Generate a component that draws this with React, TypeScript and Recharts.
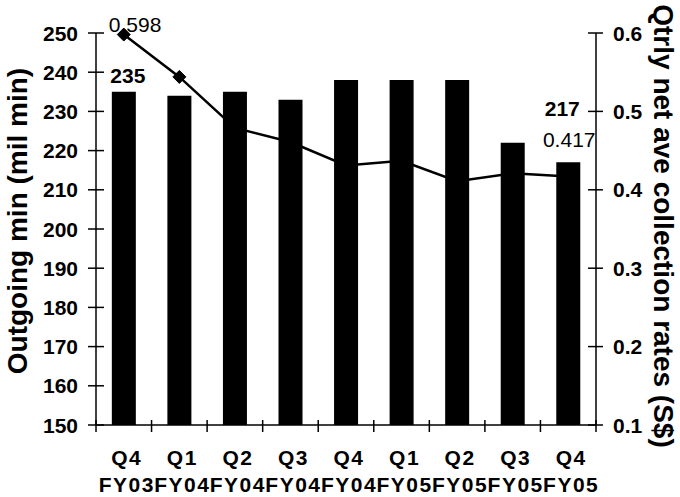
import React from 'react';
import { ComposedChart, Bar, Line, XAxis, YAxis, LabelList } from 'recharts';

const categories = ['Q4 FY03', 'Q1 FY04', 'Q2 FY04', 'Q3 FY04', 'Q4 FY04', 'Q1 FY05', 'Q2 FY05', 'Q3 FY05', 'Q4 FY05'];
const quarterLabels = ['Q4', 'Q1', 'Q2', 'Q3', 'Q4', 'Q1', 'Q2', 'Q3', 'Q4'];
const fyLabels = ['FY03', 'FY04', 'FY04', 'FY04', 'FY04', 'FY05', 'FY05', 'FY05', 'FY05'];
const outgoingMinutes = [235, 234, 235, 233, 238, 238, 238, 222, 217];
const collectionRates = [0.598, 0.544, 0.479, 0.461, 0.431, 0.437, 0.411, 0.421, 0.417];
const leftTicks = [150, 160, 170, 180, 190, 200, 210, 220, 230, 240, 250];
const rightTicks = [0.1, 0.2, 0.3, 0.4, 0.5, 0.6];
const leftTitle = 'Outgoing min (mil min)';
const rightTitle = 'Qtrly net ave collection rates (S$)';

const data = categories.map((c, i) => ({
  cat: c,
  q: quarterLabels[i],
  fy: fyLabels[i],
  minutes: outgoingMinutes[i],
  rate: collectionRates[i],
}));

const FONT = '"Liberation Sans", Arial, sans-serif';
const LAST = categories.length - 1;

const LeftTick = (props: any) => {
  const { x, y, payload } = props;
  return (
    <g>
      <line x1={x - 8} x2={x + 8} y1={y} y2={y} stroke="#000" strokeWidth={1.5} />
      <text x={x - 18} y={y + 7.5} textAnchor="end" fontFamily={FONT} fontWeight="bold" fontSize={21} fill="#000">
        {payload.value}
      </text>
    </g>
  );
};

const RightTick = (props: any) => {
  const { x, y, payload } = props;
  return (
    <g>
      <line x1={x - 8} x2={x + 7} y1={y} y2={y} stroke="#000" strokeWidth={1.5} />
      <text x={x + 17} y={y + 7.5} textAnchor="start" fontFamily={FONT} fontWeight="bold" fontSize={21} fill="#000">
        {Number(payload.value).toFixed(1)}
      </text>
    </g>
  );
};

const BottomTick = (props: any) => {
  const { x, y, payload, index } = props;
  const off = payload.offset ?? 27.8;
  const d = data[index] || data.find((e) => e.cat === payload.value);
  return (
    <g>
      <line x1={x - off} x2={x - off} y1={y - 5} y2={y + 7} stroke="#000" strokeWidth={1.5} />
      {index === LAST && <line x1={x + off} x2={x + off} y1={y - 5} y2={y + 7} stroke="#000" strokeWidth={1.5} />}
      <text x={x + 3} y={y + 40} textAnchor="middle" fontFamily={FONT} fontWeight="bold" fontSize={21} letterSpacing={1.5} fill="#000">
        {d ? d.q : ''}
      </text>
      <text x={x + 3} y={y + 67} textAnchor="middle" fontFamily={FONT} fontWeight="bold" fontSize={21} letterSpacing={1.5} fill="#000">
        {d ? d.fy : ''}
      </text>
    </g>
  );
};

const Diamond = (props: any) => {
  const { cx, cy, index } = props;
  if (cx == null || cy == null) return <g key={`d${index}`} />;
  const r = 6.5;
  return (
    <polygon
      key={`d${index}`}
      points={`${cx},${cy - r} ${cx + r},${cy} ${cx},${cy + r} ${cx - r},${cy}`}
      fill="#000"
      stroke="#000"
    />
  );
};

const BarValueLabel = (props: any) => {
  const { x, y, width, value, index } = props;
  if (index === 0) {
    return (
      <text x={x + width / 2 + 4} y={y - 9} textAnchor="middle" fontFamily={FONT} fontWeight="bold" fontSize={21} fill="#000">
        {value}
      </text>
    );
  }
  if (index === LAST) {
    return (
      <text x={x + width / 2 - 6} y={y - 46} textAnchor="middle" fontFamily={FONT} fontWeight="bold" fontSize={21} fill="#000">
        {value}
      </text>
    );
  }
  return null;
};

const LineValueLabel = (props: any) => {
  const { x, y, value, index } = props;
  if (index === 0) {
    return (
      <text x={x - 15} y={y - 3} textAnchor="start" fontFamily={FONT} fontSize={21} fill="#000">
        {value}
      </text>
    );
  }
  if (index === LAST) {
    return (
      <text x={x + 1} y={y - 29} textAnchor="middle" fontFamily={FONT} fontSize={21} fill="#000">
        {value}
      </text>
    );
  }
  return null;
};

const LeftTitle = (props: any) => {
  const vb = props.viewBox || { x: 0, y: 33, width: 96, height: 392 };
  const cx = vb.x + 27;
  const cy = vb.y + vb.height / 2 - 8;
  return (
    <text
      x={cx}
      y={cy}
      transform={`rotate(-90, ${cx}, ${cy})`}
      textAnchor="middle"
      fontFamily={FONT}
      fontWeight="bold"
      fontSize={28}
      fill="#000"
    >
      {leftTitle}
    </text>
  );
};

const RightTitle = (props: any) => {
  const vb = props.viewBox || { x: 596, y: 33, width: 84, height: 392 };
  const cx = vb.x + 58;
  const cy = vb.y + vb.height / 2 - 3;
  return (
    <text
      x={cx}
      y={cy}
      transform={`rotate(90, ${cx}, ${cy})`}
      textAnchor="middle"
      fontFamily={FONT}
      fontWeight="bold"
      fontSize={28}
      fill="#000"
    >
      {rightTitle}
    </text>
  );
};

export default function App() {
  return (
    <div style={{ width: 680, height: 497, background: '#fff' }}>
      <style>{'body{margin:0;background:#fff}'}</style>
      <ComposedChart
        width={680}
        height={497}
        data={data}
        margin={{ top: 33, right: 0, bottom: 0, left: 0 }}
        barCategoryGap="28.5%"
      >
        <XAxis
          dataKey="cat"
          xAxisId="x"
          height={72}
          tick={<BottomTick />}
          tickLine={false}
          tickSize={0}
          tickMargin={0}
          interval={0}
          axisLine={{ stroke: '#000', strokeWidth: 1.5 }}
        />
        <YAxis
          yAxisId="left"
          orientation="left"
          width={96}
          domain={[150, 250]}
          ticks={leftTicks}
          tick={<LeftTick />}
          tickLine={false}
          tickSize={0}
          tickMargin={0}
          axisLine={{ stroke: '#000', strokeWidth: 1.5 }}
          label={(p: any) => <LeftTitle {...p} />}
        />
        <YAxis
          yAxisId="right"
          orientation="right"
          width={84}
          domain={[0.1, 0.6]}
          ticks={rightTicks}
          tick={<RightTick />}
          tickLine={false}
          tickSize={0}
          tickMargin={0}
          axisLine={{ stroke: '#000', strokeWidth: 1.5 }}
          label={(p: any) => <RightTitle {...p} />}
        />
        <Bar dataKey="minutes" xAxisId="x" yAxisId="left" fill="#000" isAnimationActive={false}>
          <LabelList dataKey="minutes" content={<BarValueLabel />} />
        </Bar>
        <Line
          dataKey="rate"
          xAxisId="x"
          yAxisId="right"
          stroke="#000"
          strokeWidth={2.5}
          dot={(p: any) => <Diamond key={`dot${p.index}`} {...p} />}
          activeDot={false}
          isAnimationActive={false}
        >
          <LabelList dataKey="rate" content={<LineValueLabel />} />
        </Line>
      </ComposedChart>
    </div>
  );
}
